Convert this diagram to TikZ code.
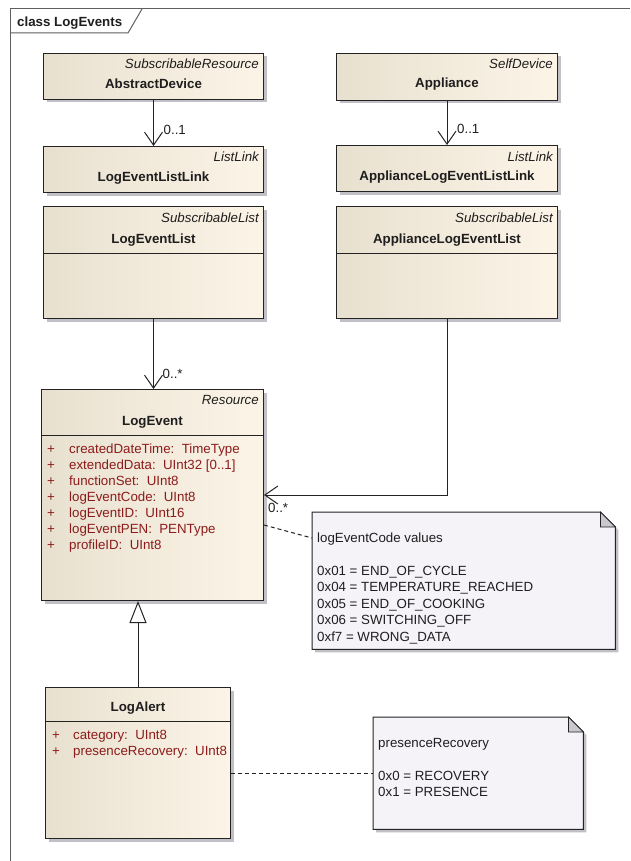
\documentclass[tikz,border=0pt]{standalone}
\usepackage{fontspec}
\setmainfont{Liberation Sans}
\usetikzlibrary{arrows.meta,shadows,calc}

\definecolor{framec}{RGB}{95,95,95}
\definecolor{edgec}{RGB}{35,35,35}
\definecolor{textc}{RGB}{30,30,30}
\definecolor{attrc}{RGB}{140,28,28}
\definecolor{fillL}{RGB}{232,224,207}
\definecolor{fillR}{RGB}{252,244,231}
\definecolor{shadowc}{RGB}{192,192,198}
\definecolor{notec}{RGB}{246,243,248}
\definecolor{foldc}{RGB}{200,200,206}

\tikzset{
  classbox/.style={draw=edgec, line width=1pt, left color=fillL, right color=fillR,
    inner sep=0pt, anchor=north west,
    drop shadow={shadow xshift=3pt, shadow yshift=-3pt, fill=shadowc, opacity=1}},
  notearea/.style={inner sep=0pt, anchor=north west},
  stereo/.style={font=\fontsize{13.3}{16}\selectfont\itshape, text=textc, anchor=base east, inner sep=0pt},
  cname/.style={font=\fontsize{13.3}{16}\selectfont\bfseries, text=textc, anchor=base, inner sep=0pt},
  attr/.style={text=attrc, anchor=base west, inner sep=0pt},
  notetext/.style={text=textc, anchor=base west, inner sep=0pt},
  mult/.style={text=textc, anchor=base west, inner sep=0pt},
  divider/.style={draw=edgec, line width=1pt},
  assoc/.style={draw=edgec, line width=1pt, -{Straight Barb[length=13pt,width=18pt,line width=1pt]}},
  generalize/.style={draw=edgec, line width=1pt, -{Triangle[open,length=22pt,width=17pt,line width=1pt,fill=white]}},
  notelink/.style={draw=edgec, line width=1pt, dash pattern=on 4pt off 3pt},
}

% note paper with dog-eared corner, drawn around a named area node
\newcommand\drawnote[1]{%
  \fill[shadowc] ($(#1.north west)+(3,3)$) -- ($(#1.north east)+(-12,3)$) -- ($(#1.north east)+(3,18)$)
    -- ($(#1.south east)+(3,3)$) -- ($(#1.south west)+(3,3)$) -- cycle;
  \filldraw[draw=edgec, fill=notec, line width=1pt] (#1.north west) -- ($(#1.north east)+(-15,0)$)
    -- ($(#1.north east)+(0,15)$) -- (#1.south east) -- (#1.south west) -- cycle;
  \filldraw[draw=edgec, fill=foldc, line width=0.8pt] ($(#1.north east)+(-15,0)$)
    -- ($(#1.north east)+(-15,15)$) -- ($(#1.north east)+(0,15)$) -- cycle;
}

\begin{document}
\begin{tikzpicture}[x=1pt,y=-1pt,font=\fontsize{13.3}{16}\selectfont]
\useasboundingbox[fill=white] (0,0) rectangle (630,861);

% diagram frame and its name tab
\draw[framec, line width=1pt] (10,861) -- (10,9) -- (630,9);
\draw[framec, line width=1pt] (142,9) -- (128,33) -- (10,33);
\node[anchor=base west, inner sep=0pt, font=\fontsize{13.3}{16}\selectfont\bfseries, text=textc] (framename) at (17,27) {class LogEvents};

% classes
\node[classbox, minimum width=220pt, minimum height=46pt] (ad) at (43,53) {};
\node[stereo] (ad-st) at ($(ad.north east)+(-5,16)$) {SubscribableResource};
\node[cname] (ad-nm) at ($(ad.north)+(0,36)$) {AbstractDevice};

\node[classbox, minimum width=220pt, minimum height=46pt] (lelink) at (43,146) {};
\node[stereo] (lelink-st) at ($(lelink.north east)+(-5,16)$) {ListLink};
\node[cname] (lelink-nm) at ($(lelink.north)+(0,36)$) {LogEventListLink};

\node[classbox, minimum width=221pt, minimum height=47pt] (app) at (336,53) {};
\node[stereo] (app-st) at ($(app.north east)+(-5,16)$) {SelfDevice};
\node[cname] (app-nm) at ($(app.north)+(0,35)$) {Appliance};

\node[classbox, minimum width=221pt, minimum height=46pt] (alink) at (336,145) {};
\node[stereo] (alink-st) at ($(alink.north east)+(-5,16)$) {ListLink};
\node[cname] (alink-nm) at ($(alink.north)+(0,35)$) {ApplianceLogEventListLink};

\node[classbox, minimum width=220pt, minimum height=112pt] (lel) at (43,206) {};
\node[stereo] (lel-st) at ($(lel.north east)+(-5,16)$) {SubscribableList};
\node[cname] (lel-nm) at ($(lel.north)+(0,37)$) {LogEventList};
\draw[divider] ($(lel.north west)+(0,47)$) -- ($(lel.north east)+(0,47)$);

\node[classbox, minimum width=221pt, minimum height=112pt] (alel) at (336,206) {};
\node[stereo] (alel-st) at ($(alel.north east)+(-5,16)$) {SubscribableList};
\node[cname] (alel-nm) at ($(alel.north)+(0,37)$) {ApplianceLogEventList};
\draw[divider] ($(alel.north west)+(0,47)$) -- ($(alel.north east)+(0,47)$);

\node[classbox, minimum width=222pt, minimum height=211pt] (le) at (41,389) {};
\node[stereo] (le-st) at ($(le.north east)+(-5,15)$) {Resource};
\node[cname] (le-nm) at ($(le.north)+(0,36)$) {LogEvent};
\draw[divider] ($(le.north west)+(0,46)$) -- ($(le.north east)+(0,46)$);
\foreach \t [count=\i from 0] in {createdDateTime:\ \ TimeType, extendedData:\ \ UInt32 [0..1],
    functionSet:\ \ UInt8, logEventCode:\ \ UInt8, logEventID:\ \ UInt16,
    logEventPEN:\ \ PENType, profileID:\ \ UInt8}{
  \node[attr] (le-p\i) at ($(le.north west)+(6,64+16*\i)$) {+};
  \node[attr] (le-a\i) at ($(le.north west)+(28,64+16*\i)$) {\t};
}

\node[classbox, minimum width=185pt, minimum height=151pt] (la) at (45,687) {};
\node[cname] (la-nm) at ($(la.north)+(0,24)$) {LogAlert};
\draw[divider] ($(la.north west)+(0,34)$) -- ($(la.north east)+(0,34)$);
\node[attr] (la-p0) at ($(la.north west)+(7,52)$) {+};
\node[attr] (la-a0) at ($(la.north west)+(28,52)$) {category:\ \ UInt8};
\node[attr] (la-p1) at ($(la.north west)+(7,68)$) {+};
\node[attr] (la-a1) at ($(la.north west)+(28,68)$) {presenceRecovery:\ \ UInt8};

% notes
\node[notearea, minimum width=303pt, minimum height=137pt] (codenote) at (312,512) {};
\drawnote{codenote}
\node[notetext] (cn0) at ($(codenote.north west)+(5,30)$) {logEventCode values};
\foreach \t [count=\i from 0] in {0x01 = END\_OF\_CYCLE, 0x04 = TEMPERATURE\_REACHED,
    0x05 = END\_OF\_COOKING, 0x06 = SWITCHING\_OFF, 0xf7 = WRONG\_DATA}{
  \node[notetext] (cn-l\i) at ($(codenote.north west)+(5,63+16.5*\i)$) {\t};
}

\node[notearea, minimum width=210pt, minimum height=112pt] (prnote) at (373,717) {};
\drawnote{prnote}
\node[notetext] (pn0) at ($(prnote.north west)+(5,30)$) {presenceRecovery};
\node[notetext] (pn1) at ($(prnote.north west)+(5,63)$) {0x0 = RECOVERY};
\node[notetext] (pn2) at ($(prnote.north west)+(5,79.5)$) {0x1 = PRESENCE};

% connectors
\draw[assoc] (ad.south) -- (lelink.north);
\draw[assoc] (app.south) -- (alink.north);
\draw[assoc] (lel.south) -- (lel.south |- le.north);
\draw[assoc] (alel.south) |- (le.east);
\draw[generalize] (la.north) -- (la.north |- le.south);
\draw[notelink] (le.east |- 0,525) -- (codenote.west |- 0,538);
\draw[notelink] (la.east |- 0,773) -- (prnote.west |- 0,773);

% multiplicities
\node[mult] (m1) at ($(lelink.north)+(10,-11)$) {0..1};
\node[mult] (m2) at ($(alink.north)+(10,-11)$) {0..1};
\node[mult] (m3) at ($(le.north)+(10,-11)$) {0..*};
\node[mult] (m4) at ($(le.east)+(4,17.5)$) {0..*};
\end{tikzpicture}
\end{document}
